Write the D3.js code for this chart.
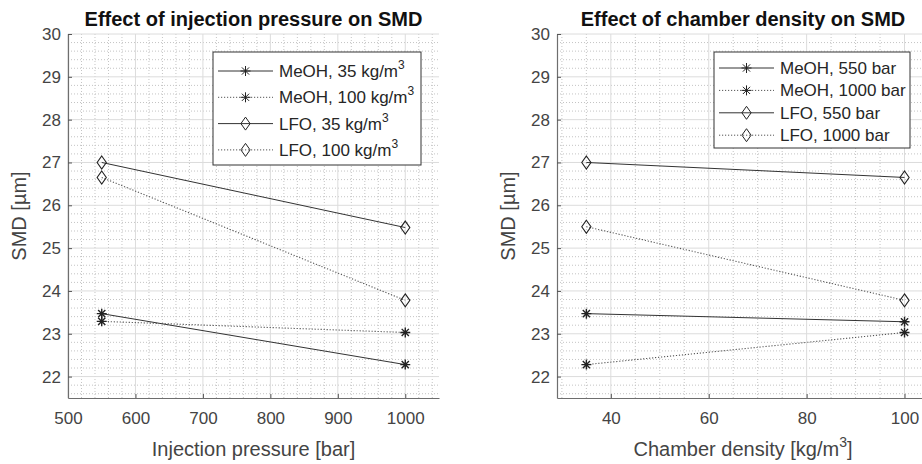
<!DOCTYPE html>
<html>
<head>
<meta charset="utf-8">
<script src="https://cdn.jsdelivr.net/npm/d3@7"></script>
<style>
  html, body { margin: 0; padding: 0; background: #fff; }
  svg { display: block; font-family: "Liberation Sans", Arial, Helvetica, sans-serif; }
</style>
</head>
<body>
<svg id="chart" width="922" height="464"></svg>
<script>
// ---------- data ----------
const pressures = [550, 1000];          // bar
const densities = [35, 100];            // kg/m3

// Left panel: SMD vs injection pressure
const meoh35  = [23.47, 22.28];
const meoh100 = [23.29, 23.03];
const lfo35   = [27.0, 25.48];
const lfo100  = [26.65, 23.78];

// Right panel: SMD vs chamber density
const meoh550  = [23.47, 23.28];
const meoh1000 = [22.28, 23.03];
const lfo550   = [27.0, 26.65];
const lfo1000  = [25.5, 23.78];

const yTicks = [22, 23, 24, 25, 26, 27, 28, 29, 30];
const xTicksPressure = [500, 600, 700, 800, 900, 1000];
const xTicksDensity = [40, 60, 80, 100];

const leftLegend = [
  {name: "MeOH, 35 kg/m", sup: "3", marker: "star", dotted: false},
  {name: "MeOH, 100 kg/m", sup: "3", marker: "star", dotted: true},
  {name: "LFO, 35 kg/m", sup: "3", marker: "diamond", dotted: false},
  {name: "LFO, 100 kg/m", sup: "3", marker: "diamond", dotted: true}
];
const rightLegend = [
  {name: "MeOH, 550 bar", sup: "", marker: "star", dotted: false},
  {name: "MeOH, 1000 bar", sup: "", marker: "star", dotted: true},
  {name: "LFO, 550 bar", sup: "", marker: "diamond", dotted: false},
  {name: "LFO, 1000 bar", sup: "", marker: "diamond", dotted: true}
];

// ---------- drawing ----------
const svg = d3.select("#chart");
const TEXT = "#444";
const starPath = "M-5,0L5,0M0,-5L0,5M-3.6,-3.6L3.6,3.6M-3.6,3.6L3.6,-3.6";
const diamondPath = "M0,-6.5L4.6,0L0,6.5L-4.6,0Z";

function drawMarker(g, type, x, y, w) {
  g.append("path")
    .attr("d", type === "star" ? starPath : diamondPath)
    .attr("transform", `translate(${x},${y})`)
    .attr("fill", "none")
    .attr("stroke", "#222")
    .attr("stroke-width", w);
}

function panel(cfg) {
  const g = svg.append("g");
  const x = d3.scaleLinear().domain(cfg.xDomain).range(cfg.xRange);
  const y = d3.scaleLinear().domain([21.5, 30]).range([398, 34]);

  // minor grid
  const grid = g.append("g");
  d3.range(cfg.minorStart, cfg.xDomain[1] + 1e-9, cfg.minorStep).forEach(v => {
    if (cfg.xTicks.some(t => Math.abs(t - v) < 1e-9)) return;
    grid.append("line")
      .attr("x1", x(v)).attr("x2", x(v)).attr("y1", y(30)).attr("y2", y(21.5))
      .attr("stroke", "#c4c4c4").attr("stroke-width", 1).attr("stroke-dasharray", "1,2");
  });
  d3.range(21.6, 30 + 1e-9, 0.2).forEach(v => {
    if (Math.abs(v - Math.round(v)) < 1e-6) return;
    grid.append("line")
      .attr("x1", cfg.xRange[0]).attr("x2", cfg.xRange[1]).attr("y1", y(v)).attr("y2", y(v))
      .attr("stroke", "#c4c4c4").attr("stroke-width", 1).attr("stroke-dasharray", "1,2");
  });
  // major grid
  cfg.xTicks.forEach(v => {
    grid.append("line")
      .attr("x1", x(v)).attr("x2", x(v)).attr("y1", y(30)).attr("y2", y(21.5))
      .attr("stroke", "#dcdcdc").attr("stroke-width", 1);
  });
  yTicks.forEach(v => {
    grid.append("line")
      .attr("x1", cfg.xRange[0]).attr("x2", cfg.xRange[1]).attr("y1", y(v)).attr("y2", y(v))
      .attr("stroke", "#dcdcdc").attr("stroke-width", 1);
  });

  // axes
  const xa = g.append("g").attr("transform", "translate(0,398)")
    .call(d3.axisBottom(x).tickValues(cfg.xTicks).tickFormat(d3.format("d"))
      .tickSizeInner(-4).tickSizeOuter(0).tickPadding(14));
  const ya = g.append("g").attr("transform", `translate(${cfg.xRange[0]},0)`)
    .call(d3.axisLeft(y).tickValues(yTicks).tickFormat(d3.format("d"))
      .tickSizeInner(-4).tickSizeOuter(0).tickPadding(7));
  [xa, ya].forEach(a => {
    a.select(".domain").attr("stroke", "#6e6e6e").attr("stroke-width", 1.2);
    a.selectAll(".tick line").attr("stroke", "#555");
    a.selectAll(".tick text").attr("fill", TEXT).attr("font-size", 17)
      .attr("font-family", "Liberation Sans, Arial, sans-serif");
  });

  // series
  const line = d3.line().x((d, i) => x(cfg.xs[i])).y(d => y(d));
  cfg.series.forEach((s, k) => {
    const meta = cfg.legend[k];
    g.append("path").datum(s).attr("d", line).attr("fill", "none")
      .attr("stroke", meta.dotted ? "#555" : "#333")
      .attr("stroke-width", meta.dotted ? 1.1 : 1)
      .attr("stroke-dasharray", meta.dotted ? "1.2,1.8" : null);
  });
  cfg.series.forEach((s, k) => {
    const meta = cfg.legend[k];
    s.forEach((v, i) => drawMarker(g, meta.marker, x(cfg.xs[i]), y(v), meta.marker === "star" ? 1.4 : 1.1));
  });

  // title
  const cx = (cfg.xRange[0] + cfg.xRange[1]) / 2;
  g.append("text").attr("x", cx).attr("y", 26).attr("text-anchor", "middle")
    .attr("font-size", 20).attr("font-weight", "bold").attr("fill", "#111")
    .text(cfg.title);

  // x label
  const xl = g.append("text").attr("x", cx).attr("y", 456).attr("text-anchor", "middle")
    .attr("font-size", 20).attr("fill", TEXT);
  xl.append("tspan").text(cfg.xLabel);
  if (cfg.xLabelSup) {
    xl.append("tspan").attr("font-size", 14).attr("dy", -9).text(cfg.xLabelSup);
    xl.append("tspan").attr("dy", 9).text(cfg.xLabelEnd);
  }

  // y label
  g.append("text")
    .attr("transform", `translate(${cfg.xRange[0] - 42},216) rotate(-90)`)
    .attr("text-anchor", "middle").attr("font-size", 20).attr("fill", TEXT)
    .text("SMD [µm]");

  // legend
  const L = cfg.legendBox;
  const lg = g.append("g");
  lg.append("rect").attr("x", L.x).attr("y", L.y).attr("width", L.w).attr("height", L.h)
    .attr("fill", "#fff").attr("stroke", "#333").attr("stroke-width", 1);
  cfg.legend.forEach((item, i) => {
    const yy = L.row0 + i * L.step;
    lg.append("line").attr("x1", L.x + 5).attr("x2", L.x + 60).attr("y1", yy).attr("y2", yy)
      .attr("stroke", item.dotted ? "#555" : "#333")
      .attr("stroke-dasharray", item.dotted ? "1.2,1.8" : null);
    drawMarker(lg, item.marker, L.x + 32.5, yy, 1);
    const t = lg.append("text").attr("x", L.x + 66).attr("y", yy + 6)
      .attr("font-size", 17).attr("fill", "#262626");
    t.append("tspan").text(item.name);
    if (item.sup) t.append("tspan").attr("font-size", 12).attr("dy", -8).text(item.sup);
  });
}

panel({
  xDomain: [500, 1050], xRange: [68, 439],
  xTicks: xTicksPressure, minorStart: 520, minorStep: 20,
  xs: pressures,
  series: [meoh35, meoh100, lfo35, lfo100],
  legend: leftLegend,
  title: "Effect of injection pressure on SMD",
  xLabel: "Injection pressure [bar]",
  legendBox: {x: 213, y: 52, w: 208, h: 113, row0: 71, step: 26.3}
});

panel({
  xDomain: [29, 105], xRange: [557, 929],
  xTicks: xTicksDensity, minorStart: 30, minorStep: 5,
  xs: densities,
  series: [meoh550, meoh1000, lfo550, lfo1000],
  legend: rightLegend,
  title: "Effect of chamber density on SMD",
  xLabel: "Chamber density [kg/m", xLabelSup: "3", xLabelEnd: "]",
  legendBox: {x: 714, y: 52, w: 196, h: 96, row0: 68, step: 22.4}
});
</script>
</body>
</html>
